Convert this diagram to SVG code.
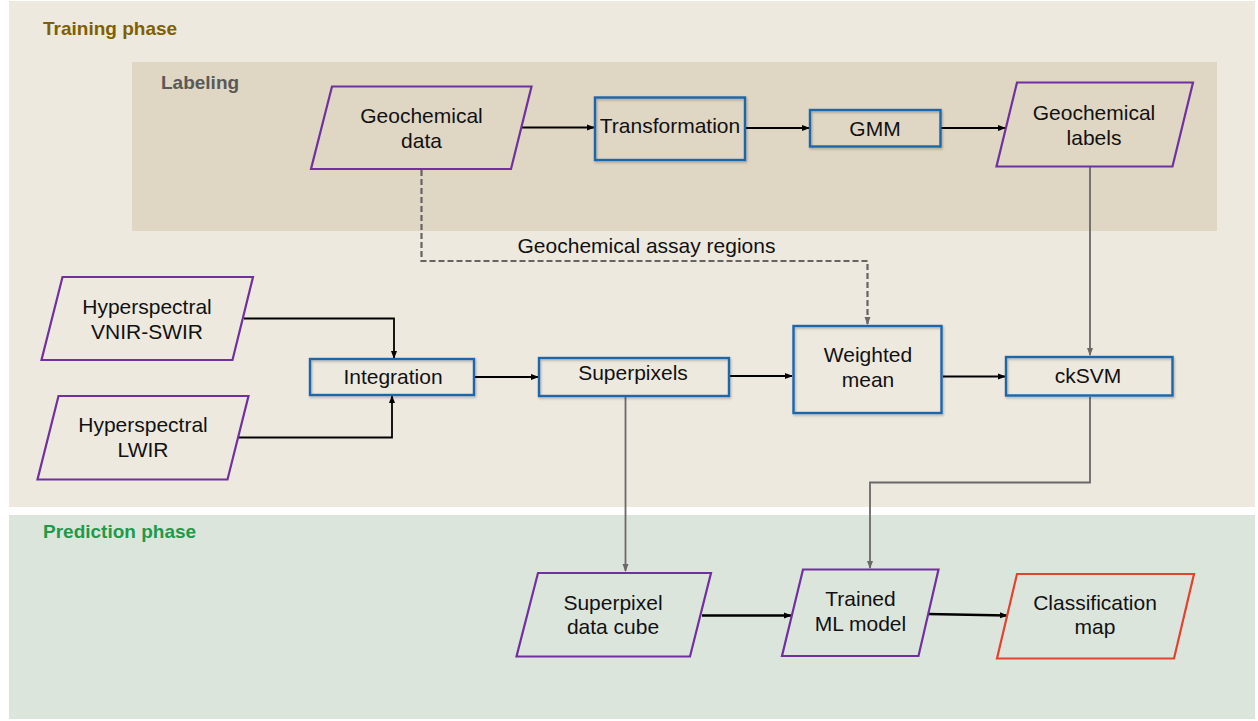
<svg xmlns="http://www.w3.org/2000/svg" width="1258" height="721" viewBox="0 0 1258 721">
<style>
text{font-family:"Liberation Sans",Arial,sans-serif;font-size:21px;fill:#111;text-anchor:middle}
.title{font-size:19px;font-weight:bold;text-anchor:start}
.io{fill:none;stroke:#7030A0;stroke-width:2.2}
.out{fill:none;stroke:#E2432F;stroke-width:2.2}
.proc{fill:none;stroke:#1F66AC;stroke-width:2.4}
.blk{fill:none;stroke:#000;stroke-width:1.8}
.thick{fill:none;stroke:#000;stroke-width:2.6}
.gray{fill:none;stroke:#6B6868;stroke-width:1.8}
.dash{fill:none;stroke:#666363;stroke-width:2.2;stroke-dasharray:6,3}
</style>
<defs>
<marker id="ab" markerWidth="8" markerHeight="8" refX="7" refY="4" orient="auto" markerUnits="userSpaceOnUse"><path d="M0,1 L8,4 L0,7 z" fill="#000"/></marker>
<marker id="ag" markerWidth="8" markerHeight="8" refX="7" refY="4" orient="auto" markerUnits="userSpaceOnUse"><path d="M0,1 L8,4 L0,7 z" fill="#6B6868"/></marker>
<filter id="sh" x="-10%" y="-10%" width="120%" height="130%"><feDropShadow dx="1" dy="1.5" stdDeviation="1.2" flood-color="#000" flood-opacity="0.25"/></filter>
</defs>
<rect width="1258" height="721" fill="#fff"/>
<g id="training-phase">
<rect x="9" y="1" width="1246" height="506" fill="#EEE9DF"/>
<text class="title" x="43" y="35" style="fill:#7F6000">Training phase</text>
</g>
<g id="labeling">
<rect x="132" y="62" width="1085" height="169" fill="#DFD6C4"/>
<text class="title" x="161" y="89" style="fill:#595959">Labeling</text>
</g>
<g id="prediction-phase">
<rect x="9" y="515" width="1246" height="204" fill="#DCE5DC"/>
<text class="title" x="43" y="538" style="fill:#22994A">Prediction phase</text>
</g>
<g id="connectors">
<path class="blk" d="M521,127.5 H594" marker-end="url(#ab)"/>
<path class="blk" d="M746,128 H809" marker-end="url(#ab)"/>
<path class="blk" d="M941,128 H1005" marker-end="url(#ab)"/>
<path class="gray" d="M1090,167 V355" marker-end="url(#ag)"/>
<path class="dash" d="M421.5,170 V261 H867.5 V324" marker-end="url(#ag)"/>
<path class="blk" d="M244,318.5 H394 V358" marker-end="url(#ab)"/>
<path class="blk" d="M239,437.5 H392 V396" marker-end="url(#ab)"/>
<path class="blk" d="M475,377 H538" marker-end="url(#ab)"/>
<path class="blk" d="M730,376 H792" marker-end="url(#ab)"/>
<path class="blk" d="M943,376.5 H1005" marker-end="url(#ab)"/>
<path class="gray" d="M625.5,397 V571" marker-end="url(#ag)"/>
<path class="gray" d="M1090,397 V482.5 H870 V568" marker-end="url(#ag)"/>
<path class="thick" d="M702,615.5 H791" marker-end="url(#ab)"/>
<path class="thick" d="M928,614 L1007,615.5" marker-end="url(#ab)"/>
</g>
<text x="646.5" y="253">Geochemical assay regions</text>
<g id="geochemical-data">
<polygon class="io" points="332,86.5 531.5,86.5 511,169 311,169"/>
<text x="421.5" y="123">Geochemical</text>
<text x="421.5" y="148">data</text>
</g>
<g id="transformation">
<rect class="proc" x="595" y="97.5" width="150" height="62.5" filter="url(#sh)"/>
<text x="670" y="133">Transformation</text>
</g>
<g id="gmm">
<rect class="proc" x="810" y="110" width="130.5" height="36.5" filter="url(#sh)"/>
<text x="875" y="135.5">GMM</text>
</g>
<g id="geochemical-labels">
<polygon class="io" points="1017,82.5 1193,82.5 1172.5,166.5 996.5,166.5"/>
<text x="1094" y="120">Geochemical</text>
<text x="1094" y="145">labels</text>
</g>
<g id="hyperspectral-vnir-swir">
<polygon class="io" points="62.5,277 253,277 232.5,360 41.5,360"/>
<text x="147" y="313.5">Hyperspectral</text>
<text x="147" y="338.5">VNIR-SWIR</text>
</g>
<g id="hyperspectral-lwir">
<polygon class="io" points="58.5,396 248.5,396 227.5,479.5 37.5,479.5"/>
<text x="143" y="432">Hyperspectral</text>
<text x="143" y="457">LWIR</text>
</g>
<g id="integration">
<rect class="proc" x="310" y="359" width="164" height="36" filter="url(#sh)"/>
<text x="393" y="383.5">Integration</text>
</g>
<g id="superpixels">
<rect class="proc" x="539" y="358" width="190" height="38" filter="url(#sh)"/>
<text x="633" y="380">Superpixels</text>
</g>
<g id="weighted-mean">
<rect class="proc" x="793.5" y="326" width="148" height="87" filter="url(#sh)"/>
<text x="868" y="362">Weighted</text>
<text x="868" y="387">mean</text>
</g>
<g id="cksvm">
<rect class="proc" x="1006" y="357" width="166.5" height="38.5" filter="url(#sh)"/>
<text x="1088" y="383">ckSVM</text>
</g>
<g id="superpixel-data-cube">
<polygon class="io" points="538,573 711,573 690,656.5 516.5,656.5"/>
<text x="613" y="609.5">Superpixel</text>
<text x="613" y="634">data cube</text>
</g>
<g id="trained-ml-model">
<polygon class="io" points="803,569.5 938.5,569.5 918.5,656 782,656"/>
<text x="860.5" y="606">Trained</text>
<text x="860.5" y="631">ML model</text>
</g>
<g id="classification-map">
<polygon class="out" points="1017,574 1194,574 1174,658.5 997,658.5"/>
<text x="1095" y="609.5">Classification</text>
<text x="1095" y="634">map</text>
</g>
</svg>
